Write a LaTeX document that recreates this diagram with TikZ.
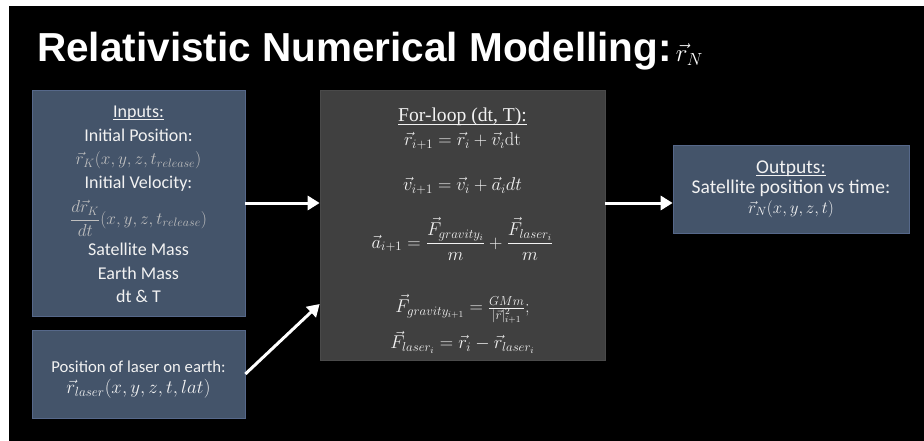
\documentclass[tikz,border=0pt]{standalone}
\usepackage{fix-cm}
\usepackage{fontspec}
\newfontfamily\calibrifont{Carlito}
\newfontfamily\arialfont{Liberation Sans}
\newfontfamily\cambriafont{Liberation Serif}
\usetikzlibrary{arrows.meta}
\definecolor{slateblue}{HTML}{44546A}
\definecolor{slateedge}{HTML}{56688A}
\definecolor{loopgrey}{HTML}{404040}
\definecolor{loopedge}{HTML}{4A4A4A}
\definecolor{offwhite}{HTML}{F2F2F2}
\definecolor{mathgrey}{HTML}{BFBFBF}
% underline that runs through the descenders, as on the slide
\newcommand{\headul}[1]{\sbox0{#1}\rlap{\rule[-2.5pt]{\wd0}{0.9pt}}\usebox0}
\begin{document}
\begin{tikzpicture}[x=1pt, y=-1pt,
		bluebox/.style={fill=slateblue, draw=slateedge, line width=0.7pt, inner sep=0pt},
		loopbox/.style={fill=loopgrey, draw=loopedge, line width=0.7pt, inner sep=0pt},
		boxtext/.style={text=offwhite, align=center, inner sep=0pt},
		flow/.style={draw=white, line width=3pt, -{Triangle[length=12pt, width=14pt]}}]
		
		% --- SLIDE BACKGROUND ---
		\useasboundingbox[fill=white] (0,0) rectangle (924,441);
		\fill[black] (9,6) rectangle (924,441);
		
		% --- TITLE ---
		\node[anchor=base west, inner sep=0pt, text=white, font=\arialfont\bfseries\fontsize{40.5}{44}\selectfont] (title) at (37,62) {Relativistic Numerical Modelling:\hspace{4pt}{\fontsize{25}{28}\selectfont$\vec{r}_N$}};
		
		% --- INPUT BOXES (left column) ---
		\node[bluebox, minimum width=213pt, minimum height=226pt] (inputs) at (138.5,203) {};
		\node[boxtext, font=\calibrifont\fontsize{18}{23.6}\selectfont] (inputstext) at ([yshift=-1.5pt]inputs.center) {\headul{Inputs:}\\
			Initial Position:\\
			{\color{mathgrey}\fontsize{17.3}{23}\selectfont$\vec{r}_K(x,y,z,t_{release})$}\\
			Initial Velocity:\\[8pt]
			{\color{mathgrey}\fontsize{17.3}{23}\selectfont$\displaystyle\frac{d\vec{r}_K}{dt}(x,y,z,t_{release})$}\\[6pt]
			Satellite Mass\\
			Earth Mass\\
			dt \& T};
		\node[bluebox, minimum width=213pt, minimum height=88pt] (laser) at (138.5,374) {};
		\node[boxtext, font=\calibrifont\fontsize{16.7}{21}\selectfont] (lasertext) at ([yshift=-6pt]laser.center) {Position of laser on earth:\\
			{\fontsize{19}{21}\selectfont$\vec{r}_{laser}(x,y,z,t,lat)$}};
		
		% --- FOR-LOOP BOX (middle) ---
		\node[loopbox, minimum width=285pt, minimum height=270pt] (loop) at (462.5,225) {};
		\node[boxtext, font=\fontsize{18.5}{24}\selectfont] (looptext) at ([yshift=-6pt]loop.center) {{\cambriafont\fontsize{19.6}{24}\selectfont\headul{For-loop (dt, T):}}\\
			$\vec{r}_{i+1}=\vec{r}_i+\vec{v}_i\mathrm{dt}$\\[21pt]
			$\vec{v}_{i+1}=\vec{v}_i+\vec{a}_i dt$\\[22pt]
			$\displaystyle\vec{a}_{i+1}=\frac{\vec{F}_{gravity_i}}{m}+\frac{\vec{F}_{laser_i}}{m}$\\[33pt]
			$\vec{F}_{gravity_{i+1}}=\frac{GMm}{|\vec{r}|^2_{i+1}};$\\[7pt]
			$\vec{F}_{laser_i}=\vec{r}_i-\vec{r}_{laser_i}$};
		
		% --- OUTPUT BOX (right) ---
		\node[bluebox, minimum width=236pt, minimum height=88pt] (outputs) at (791,189) {};
		\node[boxtext, font=\calibrifont\fontsize{19.5}{20}\selectfont] (outputstext) at (outputs.center) {\headul{Outputs:}\\
			Satellite position vs time:\\
			{\fontsize{17}{20}\selectfont$\vec{r}_N(x,y,z,t)$}};
		
		% --- ARROWS ---
		\coordinate (laserin) at ([yshift=-79pt]loop.west);
		\draw[flow] (inputs.east) -- (inputs.east -| loop.west);
		\draw[flow] (laser.east) -- (laserin);
		\draw[flow] (loop.east |- inputs.east) -- (outputs.west |- inputs.east);
		
	\end{tikzpicture}
\end{document}
